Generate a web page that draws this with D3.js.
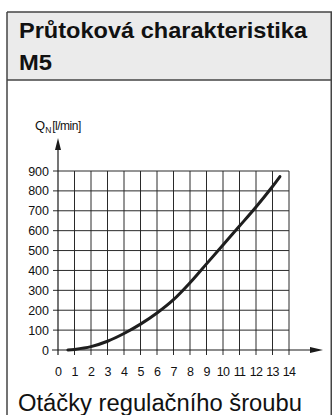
<!DOCTYPE html>
<html>
<head>
<meta charset="utf-8">
<script src="https://cdn.jsdelivr.net/npm/d3@7"></script>
<style>
  html, body { margin: 0; padding: 0; background: #fff; }
  svg { display: block; }
  text { font-family: "Liberation Sans", Arial, Helvetica, sans-serif; fill: #111; }
</style>
</head>
<body>
<svg id="chart" width="332" height="415"></svg>
<script>
// Flow characteristic of the M5 valve: flow rate vs. turns of the regulating screw
const turns = [0.6, 1, 2, 3, 4, 5, 6, 7, 8, 9, 10, 11, 12, 13, 13.45];
const flow  = [0, 3, 17, 44, 83, 130, 186, 253, 338, 433, 528, 623, 719, 822, 872];
const xTicks = [0, 1, 2, 3, 4, 5, 6, 7, 8, 9, 10, 11, 12, 13, 14];
const yTicks = [0, 100, 200, 300, 400, 500, 600, 700, 800, 900];

const titleLines = ["Průtoková charakteristika", "M5"];
const xTitle = "Otáčky regulačního šroubu";

const svg = d3.select("#chart");
const W = 332, H = 415;

// Panel frame with grey header
const frameX = 7, frameTop = 12, headerBottom = 80;
svg.append("rect")
  .attr("x", frameX).attr("y", frameTop)
  .attr("width", W - frameX + 2).attr("height", headerBottom - frameTop)
  .attr("fill", "#ebebeb");
svg.append("line").attr("x1", frameX).attr("x2", W).attr("y1", frameTop).attr("y2", frameTop)
  .attr("stroke", "#444").attr("stroke-width", 1.5);
svg.append("line").attr("x1", frameX).attr("x2", W).attr("y1", headerBottom).attr("y2", headerBottom)
  .attr("stroke", "#444").attr("stroke-width", 1.5);
svg.append("line").attr("x1", frameX).attr("x2", frameX).attr("y1", frameTop).attr("y2", H)
  .attr("stroke", "#444").attr("stroke-width", 1.5);
svg.append("line").attr("x1", W - 0.75).attr("x2", W - 0.75).attr("y1", frameTop).attr("y2", H)
  .attr("stroke", "#444").attr("stroke-width", 1.5);

// Header title
const titleWidths = [288, 33];
titleLines.forEach((t, i) => {
  svg.append("text")
    .attr("x", 19).attr("y", 37.5 + i * 32)
    .attr("font-size", 22).attr("font-weight", "bold")
    .attr("textLength", titleWidths[i])
    .attr("lengthAdjust", "spacingAndGlyphs")
    .text(t);
});

// Scales
const x = d3.scaleLinear().domain([0, 14]).range([58, 289]);
const y = d3.scaleLinear().domain([0, 900]).range([350, 171]);

const g = svg.append("g");

// Grid: vertical lines (extend slightly below the axis as ticks)
g.selectAll("line.vgrid").data(xTicks.slice(1)).join("line")
  .attr("class", "vgrid")
  .attr("x1", d => x(d)).attr("x2", d => x(d))
  .attr("y1", y(900)).attr("y2", y(0) + 5)
  .attr("stroke", "#2a2a2a").attr("stroke-width", 1);

// Grid: horizontal lines (extend slightly left of the axis as ticks)
g.selectAll("line.hgrid").data(yTicks.slice(1)).join("line")
  .attr("class", "hgrid")
  .attr("x1", x(0) - 5).attr("x2", x(14))
  .attr("y1", d => y(d)).attr("y2", d => y(d))
  .attr("stroke", "#2a2a2a").attr("stroke-width", 1);

// Axes with arrowheads
g.append("line")
  .attr("x1", x(0) - 6).attr("x2", 312)
  .attr("y1", y(0)).attr("y2", y(0))
  .attr("stroke", "#1a1a1a").attr("stroke-width", 1.2);
g.append("path")
  .attr("d", `M${323},${y(0)} L${310},${y(0) - 3} L${310},${y(0) + 3} Z`)
  .attr("fill", "#1a1a1a");
g.append("line")
  .attr("x1", x(0)).attr("x2", x(0))
  .attr("y1", y(0) + 5).attr("y2", 148)
  .attr("stroke", "#1a1a1a").attr("stroke-width", 1.2);
g.append("path")
  .attr("d", `M${x(0)},${138} L${x(0) - 3},${150} L${x(0) + 3},${150} Z`)
  .attr("fill", "#1a1a1a");

// Tick labels
g.selectAll("text.xt").data(xTicks).join("text")
  .attr("class", "xt")
  .attr("x", d => x(d)).attr("y", 376)
  .attr("text-anchor", "middle")
  .attr("font-size", 12.5)
  .attr("letter-spacing", -0.8)
  .text(d => d);

g.selectAll("text.yt").data(yTicks).join("text")
  .attr("class", "yt")
  .attr("x", 49).attr("y", d => y(d) + 4.5)
  .attr("text-anchor", "end")
  .attr("font-size", 12.5)
  .text(d => d);

// Y axis title: Q_N [l/min]
const yt = svg.append("text").attr("x", 35).attr("y", 130).attr("font-size", 13);
yt.append("tspan").text("Q");
yt.append("tspan").attr("dy", 3).attr("font-size", 8.5).text("N");
yt.append("tspan").attr("dy", -3).attr("dx", 1).attr("font-size", 12).attr("letter-spacing", -0.5).text("[l/min]");

// X axis title
svg.append("text")
  .attr("x", 18).attr("y", 411)
  .attr("font-size", 23)
  .attr("textLength", 284)
  .attr("lengthAdjust", "spacingAndGlyphs")
  .text(xTitle);

// Flow curve
const line = d3.line()
  .x((d, i) => x(turns[i]))
  .y(d => y(d))
  .curve(d3.curveCatmullRom.alpha(0.5));

g.append("path")
  .datum(flow)
  .attr("d", line)
  .attr("fill", "none")
  .attr("stroke", "#1e1e1e")
  .attr("stroke-width", 3)
  .attr("stroke-linecap", "round");
</script>
</body>
</html>
